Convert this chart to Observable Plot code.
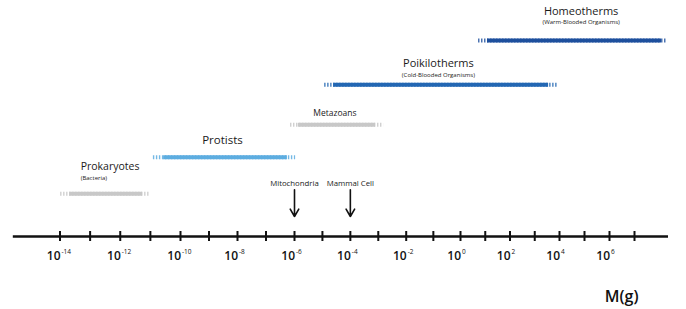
<!DOCTYPE html>
<html>
<head>
<meta charset="utf-8">
<script src="https://cdn.jsdelivr.net/npm/d3@7"></script>
<script src="https://cdn.jsdelivr.net/npm/@observablehq/plot@0.6"></script>
<style>
  html, body { margin: 0; padding: 0; background: #fff; }
  #chart { width: 686px; height: 309px; }
</style>
</head>
<body>
<div id="chart"></div>
<script>
// ---- Data (values are log10 of mass in grams) ----
const groups    = ["Homeotherms", "Poikilotherms", "Metazoans", "Protists", "Prokaryotes"];
const subtitles = ["(Warm-Blooded Organisms)", "(Cold-Blooded Organisms)", "", "", "(Bacteria)"];
const rangeMin  = [0.73, -4.92, -6.14, -10.90, -13.98];   // start of dashed (uncertain) extent
const solidLo   = [1.09, -4.60, -5.86, -10.56, -13.68];   // start of solid extent
const solidHi   = [8.08,  3.56, -3.10,  -6.25, -11.26];   // end of solid extent
const rangeMax  = [8.32,  3.96, -2.81,  -5.96, -11.00];   // end of dashed extent
const markers   = ["Mitochondria", "Mammal Cell"];
const markerExp = [-6, -4];
const tickExps  = d3.range(-14, 8);        // ticks at every decade
const labelExps = d3.range(-14, 7, 2);     // labels every other decade
const axisExtent = [-15.55, 8.36];

// ---- Styles ----
const colors = {
  Homeotherms: "#1d4f9d",
  Poikilotherms: "#2367b3",
  Metazoans: "#c8c8c8",
  Protists: "#5dade0",
  Prokaryotes: "#c8c8c8"
};
const labelStyle = {
  Homeotherms:   {size: 11,   gap: 26, subGap: 17, dx: 7,    anchor: "middle"},
  Poikilotherms: {size: 11,   gap: 18, subGap: 7.5, dx: -8,  anchor: "middle"},
  Metazoans:     {size: 8.5,  gap: 9,  subGap: 0,  dx: -2,   anchor: "middle"},
  Protists:      {size: 11.5, gap: 13, subGap: 0,  dx: -3.5, anchor: "middle"},
  Prokaryotes:   {size: 10.5, gap: 24, subGap: 14, dx: 11,   anchor: "start"}
};
const AXIS = groups.length; // axis baseline sits below the last row
const ink = "#111";

const rows = groups.map((name, i) => ({
  name, row: i, sub: subtitles[i],
  min: rangeMin[i], lo: solidLo[i], hi: solidHi[i], max: rangeMax[i],
  color: colors[name]
}));
const markerData = markers.map((name, i) => ({name, exp: markerExp[i]}));

const labelMarks = rows.flatMap(r => {
  const s = labelStyle[r.name];
  const xv = s.anchor === "start" ? r.lo : (r.lo + r.hi) / 2;
  const out = [
    Plot.text([r], {x: () => xv, y: "row", text: "name", dx: s.dx, dy: -s.gap,
      lineAnchor: "bottom", textAnchor: s.anchor, fontSize: s.size, fontWeight: 500, fill: "#1a1a1a"})
  ];
  if (r.sub) out.push(
    Plot.text([r], {x: () => xv, y: "row", text: "sub", dx: s.dx, dy: -s.subGap,
      lineAnchor: "bottom", textAnchor: s.anchor, fontSize: 6, fontWeight: 500, fill: "#1a1a1a"})
  );
  return out;
});

const chart = Plot.plot({
  width: 686,
  height: 309,
  marginTop: 0, marginBottom: 0, marginLeft: 0, marginRight: 0,
  style: {fontFamily: "'Open Sans', sans-serif", background: "#fff", overflow: "visible"},
  x: {type: "linear", domain: [-14, -10, -6, -2, 0, 4, 7], range: [59.5, 180, 294, 405.7, 460, 559, 634], axis: null},
  y: {type: "linear", domain: [0, 1, 2, 3, 4, 5], range: [40, 84.3, 124.3, 156.7, 193.3, 236], axis: null},
  marks: [
    // dashed full extents
    Plot.ruleY(rows, {y: "row", x1: "min", x2: "max", stroke: "color", strokeWidth: 4, strokeOpacity: 0.85, strokeDasharray: "1.4,1.6"}),
    // solid extents
    Plot.ruleY(rows, {y: "row", x1: "lo", x2: "hi", stroke: "color", strokeWidth: 4}),
    ...labelMarks,
    // axis line
    Plot.ruleY([AXIS], {x1: () => axisExtent[0], x2: () => axisExtent[1], stroke: ink, strokeWidth: 2.3}),
    // ticks
    Plot.ruleX(tickExps, {x: d => d, y1: () => AXIS, y2: () => AXIS, insetTop: -5, insetBottom: -5, stroke: ink, strokeWidth: 2}),
    // tick labels: base and exponent
    Plot.text(labelExps, {x: d => d, y: () => AXIS, text: () => "10", textAnchor: "end", lineAnchor: "bottom",
      dx: 0.5, dy: 23, fontSize: 12, fontWeight: 600, fill: ink}),
    Plot.text(labelExps, {x: d => d, y: () => AXIS, text: d => String(d), textAnchor: "start", lineAnchor: "bottom",
      dx: 1.5, dy: 17, fontSize: 6.5, fontWeight: 500, fill: ink}),
    // markers
    Plot.arrow(markerData, {x1: "exp", x2: "exp", y1: () => AXIS - 1, y2: () => AXIS,
      insetStart: -4, insetEnd: 20, stroke: ink, strokeWidth: 1.6, headLength: 8}),
    Plot.text(markerData, {x: "exp", y: () => AXIS - 1, text: "name", textAnchor: "middle", lineAnchor: "bottom",
      dy: -8, fontSize: 7.8, fontWeight: 500, fill: "#1a1a1a"}),
    // unit label
    Plot.text(["M(g)"], {frameAnchor: "bottom-right", text: d => d, textAnchor: "end", lineAnchor: "bottom",
      dx: -48, dy: -8, fontSize: 16, fontWeight: 600, fill: ink})
  ]
});
document.getElementById("chart").appendChild(chart);
</script>
</body>
</html>
